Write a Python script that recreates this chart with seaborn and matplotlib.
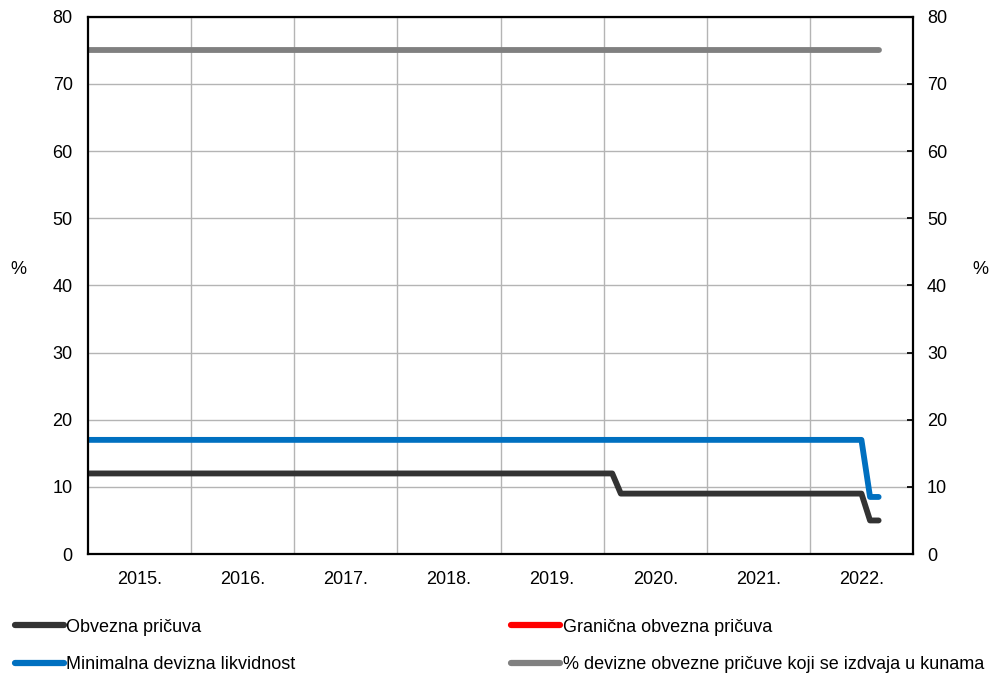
import numpy as np
import pandas as pd
import matplotlib
matplotlib.use('Agg')
import matplotlib.pyplot as plt
from matplotlib.lines import Line2D
import seaborn as sns

# monthly data, Jan 2015 - Sep 2022
months = pd.date_range('2015-01-01', '2022-09-01', freq='MS')

obvezna = (
    [12]*12 +            # 2015
    [12]*12 +            # 2016
    [12]*12 +            # 2017
    [12]*12 +            # 2018
    [12]*12 +            # 2019
    [12, 12] + [9]*10 +  # 2020
    [9]*12 +             # 2021
    [9]*7 + [5, 5]       # 2022
)
min_dev_likvidnost = (
    [17]*12 + [17]*12 + [17]*12 + [17]*12 + [17]*12 +
    [17]*12 + [17]*12 +
    [17]*7 + [8.5, 8.5]
)
granicna = [np.nan] * len(months)
kunski_dio = (
    [75]*12 + [75]*12 + [75]*12 + [75]*12 + [75]*12 +
    [75]*12 + [75]*12 + [75]*9
)

years = [2015, 2016, 2017, 2018, 2019, 2020, 2021, 2022]
year_labels = [f'{y}.' for y in years]

labels = ['Obvezna pričuva', 'Granična obvezna pričuva',
          'Minimalna devizna likvidnost',
          '% devizne obvezne pričuve koji se izdvaja u kunama']
colors = ['#333333', '#FF0000', '#0070C0', '#808080']

sns.set_theme(style='white')
plt.rcParams['font.family'] = ['Liberation Sans', 'DejaVu Sans']
plt.rcParams['text.color'] = 'black'
plt.rcParams['xtick.color'] = 'black'
plt.rcParams['ytick.color'] = 'black'

x = months.year + (months.month - 1) / 12.0

fig = plt.figure(figsize=(10, 6.74), dpi=100)
ax = fig.add_axes([0.088, 0.178, 0.825, 0.797])

lw = 4.2
sns.lineplot(x=x, y=kunski_dio, color=colors[3], lw=lw, ax=ax,
             solid_capstyle='round')
ax.plot(x, granicna, color=colors[1], lw=lw)
sns.lineplot(x=x, y=min_dev_likvidnost, color=colors[2], lw=lw, ax=ax,
             solid_capstyle='round')
sns.lineplot(x=x, y=obvezna, color=colors[0], lw=lw, ax=ax,
             solid_capstyle='round')

ax.set_xlim(2015, 2023)
ax.set_ylim(0, 80)
ax.set_xticks(years[1:] + [2023])
ax.set_xticklabels([])
ax.set_xticks([y + 0.5 for y in years], minor=True)
ax.set_xticklabels(year_labels, minor=True, fontsize=13)
ax.set_yticks(range(0, 90, 10))
ax.tick_params(axis='y', labelsize=13, length=0, pad=11)
ax.tick_params(axis='x', which='both', length=0, pad=12)
ax.grid(True, which='major', color='#b4b4b4', lw=1)
ax.set_xlabel('')
ax.set_ylabel('')

for s in ax.spines.values():
    s.set_color('black')
    s.set_linewidth(1.6)

ax2 = ax.twinx()
ax2.set_ylim(0, 80)
ax2.set_yticks(range(0, 90, 10))
ax2.tick_params(axis='y', labelsize=13, direction='in', length=4, pad=10,
                color='black')
for s in ax2.spines.values():
    s.set_visible(False)

fig.text(0.018, 1 - 270 / 674, '%', fontsize=13, ha='center', va='center')
fig.text(0.980, 1 - 270 / 674, '%', fontsize=13, ha='center', va='center')

order = [0, 2, 1, 3]
handles = [Line2D([], [], color=colors[i], lw=4.5, solid_capstyle='round')
           for i in order]
fig.legend(handles, [labels[i] for i in order], loc='upper left',
           bbox_to_anchor=(0.015, 0.082), ncol=2, frameon=False,
           fontsize=13, handlelength=2.7, handletextpad=0.15,
           columnspacing=11.95, labelspacing=1.15, borderaxespad=0,
           borderpad=0)

fig.savefig('out.png', dpi=100)
